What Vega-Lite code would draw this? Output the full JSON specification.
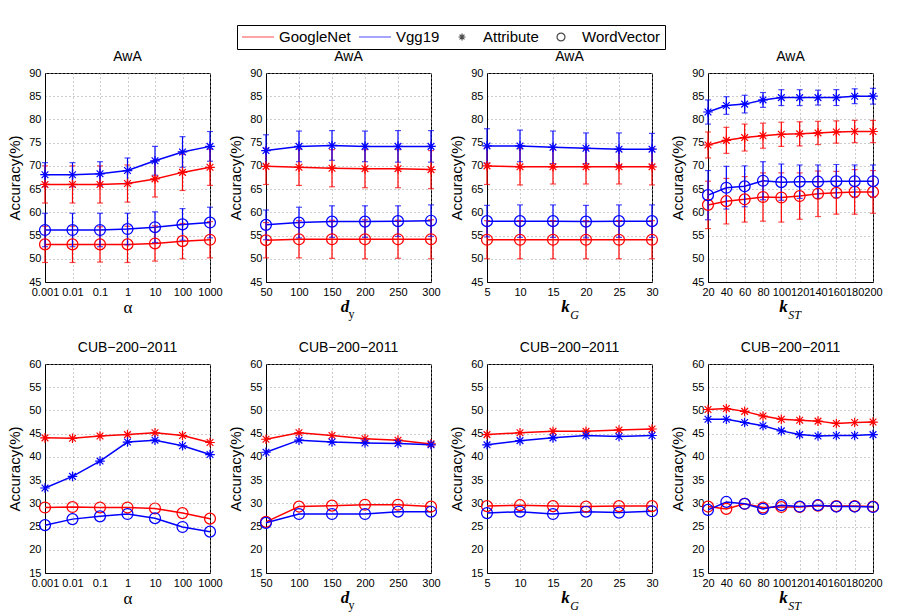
{
  "$schema": "https://vega.github.io/schema/vega-lite/v6.json",
  "padding": {"left": 7, "top": 24, "right": 5, "bottom": 5},
  "datasets": {
    "acc": [
      {"ds": "AwA", "param": "alpha", "model": "GoogleNet", "emb": "Attribute", "x": 0.001, "acc": 66.0, "err": 4.0},
      {"ds": "AwA", "param": "alpha", "model": "GoogleNet", "emb": "Attribute", "x": 0.01, "acc": 66.0, "err": 4.0},
      {"ds": "AwA", "param": "alpha", "model": "GoogleNet", "emb": "Attribute", "x": 0.1, "acc": 66.0, "err": 4.0},
      {"ds": "AwA", "param": "alpha", "model": "GoogleNet", "emb": "Attribute", "x": 1, "acc": 66.2, "err": 4.0},
      {"ds": "AwA", "param": "alpha", "model": "GoogleNet", "emb": "Attribute", "x": 10, "acc": 67.2, "err": 3.9},
      {"ds": "AwA", "param": "alpha", "model": "GoogleNet", "emb": "Attribute", "x": 100, "acc": 68.6, "err": 3.9},
      {"ds": "AwA", "param": "alpha", "model": "GoogleNet", "emb": "Attribute", "x": 1000, "acc": 69.7, "err": 3.9},
      {"ds": "AwA", "param": "alpha", "model": "Vgg19", "emb": "Attribute", "x": 0.001, "acc": 68.1, "err": 2.6},
      {"ds": "AwA", "param": "alpha", "model": "Vgg19", "emb": "Attribute", "x": 0.01, "acc": 68.1, "err": 2.6},
      {"ds": "AwA", "param": "alpha", "model": "Vgg19", "emb": "Attribute", "x": 0.1, "acc": 68.3, "err": 2.6},
      {"ds": "AwA", "param": "alpha", "model": "Vgg19", "emb": "Attribute", "x": 1, "acc": 69.0, "err": 2.7},
      {"ds": "AwA", "param": "alpha", "model": "Vgg19", "emb": "Attribute", "x": 10, "acc": 71.1, "err": 3.1},
      {"ds": "AwA", "param": "alpha", "model": "Vgg19", "emb": "Attribute", "x": 100, "acc": 73.0, "err": 3.3},
      {"ds": "AwA", "param": "alpha", "model": "Vgg19", "emb": "Attribute", "x": 1000, "acc": 74.2, "err": 3.2},
      {"ds": "AwA", "param": "alpha", "model": "GoogleNet", "emb": "WordVector", "x": 0.001, "acc": 53.1, "err": 3.9},
      {"ds": "AwA", "param": "alpha", "model": "GoogleNet", "emb": "WordVector", "x": 0.01, "acc": 53.1, "err": 3.9},
      {"ds": "AwA", "param": "alpha", "model": "GoogleNet", "emb": "WordVector", "x": 0.1, "acc": 53.1, "err": 3.8},
      {"ds": "AwA", "param": "alpha", "model": "GoogleNet", "emb": "WordVector", "x": 1, "acc": 53.1, "err": 3.9},
      {"ds": "AwA", "param": "alpha", "model": "GoogleNet", "emb": "WordVector", "x": 10, "acc": 53.3, "err": 3.8},
      {"ds": "AwA", "param": "alpha", "model": "GoogleNet", "emb": "WordVector", "x": 100, "acc": 53.8, "err": 3.8},
      {"ds": "AwA", "param": "alpha", "model": "GoogleNet", "emb": "WordVector", "x": 1000, "acc": 54.1, "err": 3.9},
      {"ds": "AwA", "param": "alpha", "model": "Vgg19", "emb": "WordVector", "x": 0.001, "acc": 56.2, "err": 3.6},
      {"ds": "AwA", "param": "alpha", "model": "Vgg19", "emb": "WordVector", "x": 0.01, "acc": 56.2, "err": 3.6},
      {"ds": "AwA", "param": "alpha", "model": "Vgg19", "emb": "WordVector", "x": 0.1, "acc": 56.2, "err": 3.6},
      {"ds": "AwA", "param": "alpha", "model": "Vgg19", "emb": "WordVector", "x": 1, "acc": 56.4, "err": 3.4},
      {"ds": "AwA", "param": "alpha", "model": "Vgg19", "emb": "WordVector", "x": 10, "acc": 56.8, "err": 3.3},
      {"ds": "AwA", "param": "alpha", "model": "Vgg19", "emb": "WordVector", "x": 100, "acc": 57.4, "err": 3.4},
      {"ds": "AwA", "param": "alpha", "model": "Vgg19", "emb": "WordVector", "x": 1000, "acc": 57.8, "err": 3.3},

      {"ds": "AwA", "param": "dy", "model": "GoogleNet", "emb": "Attribute", "x": 50, "acc": 69.9, "err": 3.9},
      {"ds": "AwA", "param": "dy", "model": "GoogleNet", "emb": "Attribute", "x": 100, "acc": 69.7, "err": 3.9},
      {"ds": "AwA", "param": "dy", "model": "GoogleNet", "emb": "Attribute", "x": 150, "acc": 69.5, "err": 4.0},
      {"ds": "AwA", "param": "dy", "model": "GoogleNet", "emb": "Attribute", "x": 200, "acc": 69.4, "err": 4.1},
      {"ds": "AwA", "param": "dy", "model": "GoogleNet", "emb": "Attribute", "x": 250, "acc": 69.4, "err": 4.1},
      {"ds": "AwA", "param": "dy", "model": "GoogleNet", "emb": "Attribute", "x": 300, "acc": 69.2, "err": 4.1},
      {"ds": "AwA", "param": "dy", "model": "Vgg19", "emb": "Attribute", "x": 50, "acc": 73.3, "err": 3.4},
      {"ds": "AwA", "param": "dy", "model": "Vgg19", "emb": "Attribute", "x": 100, "acc": 74.2, "err": 3.3},
      {"ds": "AwA", "param": "dy", "model": "Vgg19", "emb": "Attribute", "x": 150, "acc": 74.4, "err": 3.2},
      {"ds": "AwA", "param": "dy", "model": "Vgg19", "emb": "Attribute", "x": 200, "acc": 74.2, "err": 3.3},
      {"ds": "AwA", "param": "dy", "model": "Vgg19", "emb": "Attribute", "x": 250, "acc": 74.2, "err": 3.4},
      {"ds": "AwA", "param": "dy", "model": "Vgg19", "emb": "Attribute", "x": 300, "acc": 74.2, "err": 3.4},
      {"ds": "AwA", "param": "dy", "model": "GoogleNet", "emb": "WordVector", "x": 50, "acc": 54.0, "err": 3.8},
      {"ds": "AwA", "param": "dy", "model": "GoogleNet", "emb": "WordVector", "x": 100, "acc": 54.2, "err": 4.0},
      {"ds": "AwA", "param": "dy", "model": "GoogleNet", "emb": "WordVector", "x": 150, "acc": 54.2, "err": 4.1},
      {"ds": "AwA", "param": "dy", "model": "GoogleNet", "emb": "WordVector", "x": 200, "acc": 54.2, "err": 4.2},
      {"ds": "AwA", "param": "dy", "model": "GoogleNet", "emb": "WordVector", "x": 250, "acc": 54.2, "err": 4.1},
      {"ds": "AwA", "param": "dy", "model": "GoogleNet", "emb": "WordVector", "x": 300, "acc": 54.2, "err": 4.2},
      {"ds": "AwA", "param": "dy", "model": "Vgg19", "emb": "WordVector", "x": 50, "acc": 57.3, "err": 3.2},
      {"ds": "AwA", "param": "dy", "model": "Vgg19", "emb": "WordVector", "x": 100, "acc": 57.8, "err": 3.3},
      {"ds": "AwA", "param": "dy", "model": "Vgg19", "emb": "WordVector", "x": 150, "acc": 58.0, "err": 3.4},
      {"ds": "AwA", "param": "dy", "model": "Vgg19", "emb": "WordVector", "x": 200, "acc": 58.0, "err": 3.4},
      {"ds": "AwA", "param": "dy", "model": "Vgg19", "emb": "WordVector", "x": 250, "acc": 58.1, "err": 3.3},
      {"ds": "AwA", "param": "dy", "model": "Vgg19", "emb": "WordVector", "x": 300, "acc": 58.2, "err": 3.4},

      {"ds": "AwA", "param": "kG", "model": "GoogleNet", "emb": "Attribute", "x": 5, "acc": 70.0, "err": 4.0},
      {"ds": "AwA", "param": "kG", "model": "GoogleNet", "emb": "Attribute", "x": 10, "acc": 69.8, "err": 3.9},
      {"ds": "AwA", "param": "kG", "model": "GoogleNet", "emb": "Attribute", "x": 15, "acc": 69.8, "err": 3.7},
      {"ds": "AwA", "param": "kG", "model": "GoogleNet", "emb": "Attribute", "x": 20, "acc": 69.8, "err": 3.7},
      {"ds": "AwA", "param": "kG", "model": "GoogleNet", "emb": "Attribute", "x": 25, "acc": 69.8, "err": 3.7},
      {"ds": "AwA", "param": "kG", "model": "GoogleNet", "emb": "Attribute", "x": 30, "acc": 69.8, "err": 3.9},
      {"ds": "AwA", "param": "kG", "model": "Vgg19", "emb": "Attribute", "x": 5, "acc": 74.3, "err": 3.7},
      {"ds": "AwA", "param": "kG", "model": "Vgg19", "emb": "Attribute", "x": 10, "acc": 74.3, "err": 3.4},
      {"ds": "AwA", "param": "kG", "model": "Vgg19", "emb": "Attribute", "x": 15, "acc": 74.0, "err": 3.5},
      {"ds": "AwA", "param": "kG", "model": "Vgg19", "emb": "Attribute", "x": 20, "acc": 73.8, "err": 3.3},
      {"ds": "AwA", "param": "kG", "model": "Vgg19", "emb": "Attribute", "x": 25, "acc": 73.6, "err": 3.5},
      {"ds": "AwA", "param": "kG", "model": "Vgg19", "emb": "Attribute", "x": 30, "acc": 73.6, "err": 3.4},
      {"ds": "AwA", "param": "kG", "model": "GoogleNet", "emb": "WordVector", "x": 5, "acc": 54.1, "err": 4.1},
      {"ds": "AwA", "param": "kG", "model": "GoogleNet", "emb": "WordVector", "x": 10, "acc": 54.1, "err": 4.1},
      {"ds": "AwA", "param": "kG", "model": "GoogleNet", "emb": "WordVector", "x": 15, "acc": 54.1, "err": 4.1},
      {"ds": "AwA", "param": "kG", "model": "GoogleNet", "emb": "WordVector", "x": 20, "acc": 54.1, "err": 4.1},
      {"ds": "AwA", "param": "kG", "model": "GoogleNet", "emb": "WordVector", "x": 25, "acc": 54.1, "err": 4.1},
      {"ds": "AwA", "param": "kG", "model": "GoogleNet", "emb": "WordVector", "x": 30, "acc": 54.1, "err": 4.1},
      {"ds": "AwA", "param": "kG", "model": "Vgg19", "emb": "WordVector", "x": 5, "acc": 58.1, "err": 3.4},
      {"ds": "AwA", "param": "kG", "model": "Vgg19", "emb": "WordVector", "x": 10, "acc": 58.1, "err": 3.5},
      {"ds": "AwA", "param": "kG", "model": "Vgg19", "emb": "WordVector", "x": 15, "acc": 58.1, "err": 3.5},
      {"ds": "AwA", "param": "kG", "model": "Vgg19", "emb": "WordVector", "x": 20, "acc": 58.0, "err": 3.5},
      {"ds": "AwA", "param": "kG", "model": "Vgg19", "emb": "WordVector", "x": 25, "acc": 58.1, "err": 3.5},
      {"ds": "AwA", "param": "kG", "model": "Vgg19", "emb": "WordVector", "x": 30, "acc": 58.1, "err": 3.5},

      {"ds": "AwA", "param": "kST", "model": "GoogleNet", "emb": "Attribute", "x": 20, "acc": 74.5, "err": 2.8},
      {"ds": "AwA", "param": "kST", "model": "GoogleNet", "emb": "Attribute", "x": 40, "acc": 75.5, "err": 2.8},
      {"ds": "AwA", "param": "kST", "model": "GoogleNet", "emb": "Attribute", "x": 60, "acc": 76.1, "err": 2.9},
      {"ds": "AwA", "param": "kST", "model": "GoogleNet", "emb": "Attribute", "x": 80, "acc": 76.5, "err": 2.7},
      {"ds": "AwA", "param": "kST", "model": "GoogleNet", "emb": "Attribute", "x": 100, "acc": 76.8, "err": 2.6},
      {"ds": "AwA", "param": "kST", "model": "GoogleNet", "emb": "Attribute", "x": 120, "acc": 76.9, "err": 2.6},
      {"ds": "AwA", "param": "kST", "model": "GoogleNet", "emb": "Attribute", "x": 140, "acc": 77.1, "err": 2.5},
      {"ds": "AwA", "param": "kST", "model": "GoogleNet", "emb": "Attribute", "x": 160, "acc": 77.3, "err": 2.4},
      {"ds": "AwA", "param": "kST", "model": "GoogleNet", "emb": "Attribute", "x": 180, "acc": 77.4, "err": 2.4},
      {"ds": "AwA", "param": "kST", "model": "GoogleNet", "emb": "Attribute", "x": 200, "acc": 77.4, "err": 2.4},
      {"ds": "AwA", "param": "kST", "model": "Vgg19", "emb": "Attribute", "x": 20, "acc": 81.6, "err": 2.6},
      {"ds": "AwA", "param": "kST", "model": "Vgg19", "emb": "Attribute", "x": 40, "acc": 83.0, "err": 1.9},
      {"ds": "AwA", "param": "kST", "model": "Vgg19", "emb": "Attribute", "x": 60, "acc": 83.3, "err": 1.9},
      {"ds": "AwA", "param": "kST", "model": "Vgg19", "emb": "Attribute", "x": 80, "acc": 84.2, "err": 1.6},
      {"ds": "AwA", "param": "kST", "model": "Vgg19", "emb": "Attribute", "x": 100, "acc": 84.7, "err": 1.7},
      {"ds": "AwA", "param": "kST", "model": "Vgg19", "emb": "Attribute", "x": 120, "acc": 84.7, "err": 1.7},
      {"ds": "AwA", "param": "kST", "model": "Vgg19", "emb": "Attribute", "x": 140, "acc": 84.7, "err": 1.6},
      {"ds": "AwA", "param": "kST", "model": "Vgg19", "emb": "Attribute", "x": 160, "acc": 84.7, "err": 1.7},
      {"ds": "AwA", "param": "kST", "model": "Vgg19", "emb": "Attribute", "x": 180, "acc": 85.0, "err": 1.6},
      {"ds": "AwA", "param": "kST", "model": "Vgg19", "emb": "Attribute", "x": 200, "acc": 85.0, "err": 1.7},
      {"ds": "AwA", "param": "kST", "model": "GoogleNet", "emb": "WordVector", "x": 20, "acc": 61.6, "err": 5.1},
      {"ds": "AwA", "param": "kST", "model": "GoogleNet", "emb": "WordVector", "x": 40, "acc": 62.4, "err": 4.9},
      {"ds": "AwA", "param": "kST", "model": "GoogleNet", "emb": "WordVector", "x": 60, "acc": 62.8, "err": 4.9},
      {"ds": "AwA", "param": "kST", "model": "GoogleNet", "emb": "WordVector", "x": 80, "acc": 63.3, "err": 5.2},
      {"ds": "AwA", "param": "kST", "model": "GoogleNet", "emb": "WordVector", "x": 100, "acc": 63.2, "err": 5.3},
      {"ds": "AwA", "param": "kST", "model": "GoogleNet", "emb": "WordVector", "x": 120, "acc": 63.5, "err": 5.0},
      {"ds": "AwA", "param": "kST", "model": "GoogleNet", "emb": "WordVector", "x": 140, "acc": 64.0, "err": 4.9},
      {"ds": "AwA", "param": "kST", "model": "GoogleNet", "emb": "WordVector", "x": 160, "acc": 64.2, "err": 4.6},
      {"ds": "AwA", "param": "kST", "model": "GoogleNet", "emb": "WordVector", "x": 180, "acc": 64.4, "err": 4.8},
      {"ds": "AwA", "param": "kST", "model": "GoogleNet", "emb": "WordVector", "x": 200, "acc": 64.4, "err": 4.6},
      {"ds": "AwA", "param": "kST", "model": "Vgg19", "emb": "WordVector", "x": 20, "acc": 63.7, "err": 5.3},
      {"ds": "AwA", "param": "kST", "model": "Vgg19", "emb": "WordVector", "x": 40, "acc": 65.3, "err": 4.6},
      {"ds": "AwA", "param": "kST", "model": "Vgg19", "emb": "WordVector", "x": 60, "acc": 65.6, "err": 4.4},
      {"ds": "AwA", "param": "kST", "model": "Vgg19", "emb": "WordVector", "x": 80, "acc": 66.8, "err": 4.1},
      {"ds": "AwA", "param": "kST", "model": "Vgg19", "emb": "WordVector", "x": 100, "acc": 66.5, "err": 3.9},
      {"ds": "AwA", "param": "kST", "model": "Vgg19", "emb": "WordVector", "x": 120, "acc": 66.6, "err": 3.6},
      {"ds": "AwA", "param": "kST", "model": "Vgg19", "emb": "WordVector", "x": 140, "acc": 66.6, "err": 3.6},
      {"ds": "AwA", "param": "kST", "model": "Vgg19", "emb": "WordVector", "x": 160, "acc": 66.7, "err": 3.6},
      {"ds": "AwA", "param": "kST", "model": "Vgg19", "emb": "WordVector", "x": 180, "acc": 66.7, "err": 3.5},
      {"ds": "AwA", "param": "kST", "model": "Vgg19", "emb": "WordVector", "x": 200, "acc": 66.7, "err": 3.5},

      {"ds": "CUB", "param": "alpha", "model": "GoogleNet", "emb": "Attribute", "x": 0.001, "acc": 44.1},
      {"ds": "CUB", "param": "alpha", "model": "GoogleNet", "emb": "Attribute", "x": 0.01, "acc": 44.0},
      {"ds": "CUB", "param": "alpha", "model": "GoogleNet", "emb": "Attribute", "x": 0.1, "acc": 44.5},
      {"ds": "CUB", "param": "alpha", "model": "GoogleNet", "emb": "Attribute", "x": 1, "acc": 44.8},
      {"ds": "CUB", "param": "alpha", "model": "GoogleNet", "emb": "Attribute", "x": 10, "acc": 45.2},
      {"ds": "CUB", "param": "alpha", "model": "GoogleNet", "emb": "Attribute", "x": 100, "acc": 44.6},
      {"ds": "CUB", "param": "alpha", "model": "GoogleNet", "emb": "Attribute", "x": 1000, "acc": 43.1},
      {"ds": "CUB", "param": "alpha", "model": "Vgg19", "emb": "Attribute", "x": 0.001, "acc": 33.3},
      {"ds": "CUB", "param": "alpha", "model": "Vgg19", "emb": "Attribute", "x": 0.01, "acc": 35.8},
      {"ds": "CUB", "param": "alpha", "model": "Vgg19", "emb": "Attribute", "x": 0.1, "acc": 39.1},
      {"ds": "CUB", "param": "alpha", "model": "Vgg19", "emb": "Attribute", "x": 1, "acc": 43.2},
      {"ds": "CUB", "param": "alpha", "model": "Vgg19", "emb": "Attribute", "x": 10, "acc": 43.6},
      {"ds": "CUB", "param": "alpha", "model": "Vgg19", "emb": "Attribute", "x": 100, "acc": 42.4},
      {"ds": "CUB", "param": "alpha", "model": "Vgg19", "emb": "Attribute", "x": 1000, "acc": 40.5},
      {"ds": "CUB", "param": "alpha", "model": "GoogleNet", "emb": "WordVector", "x": 0.001, "acc": 29.1},
      {"ds": "CUB", "param": "alpha", "model": "GoogleNet", "emb": "WordVector", "x": 0.01, "acc": 29.2},
      {"ds": "CUB", "param": "alpha", "model": "GoogleNet", "emb": "WordVector", "x": 0.1, "acc": 29.1},
      {"ds": "CUB", "param": "alpha", "model": "GoogleNet", "emb": "WordVector", "x": 1, "acc": 29.1},
      {"ds": "CUB", "param": "alpha", "model": "GoogleNet", "emb": "WordVector", "x": 10, "acc": 28.9},
      {"ds": "CUB", "param": "alpha", "model": "GoogleNet", "emb": "WordVector", "x": 100, "acc": 27.9},
      {"ds": "CUB", "param": "alpha", "model": "GoogleNet", "emb": "WordVector", "x": 1000, "acc": 26.7},
      {"ds": "CUB", "param": "alpha", "model": "Vgg19", "emb": "WordVector", "x": 0.001, "acc": 25.3},
      {"ds": "CUB", "param": "alpha", "model": "Vgg19", "emb": "WordVector", "x": 0.01, "acc": 26.6},
      {"ds": "CUB", "param": "alpha", "model": "Vgg19", "emb": "WordVector", "x": 0.1, "acc": 27.2},
      {"ds": "CUB", "param": "alpha", "model": "Vgg19", "emb": "WordVector", "x": 1, "acc": 27.7},
      {"ds": "CUB", "param": "alpha", "model": "Vgg19", "emb": "WordVector", "x": 10, "acc": 26.8},
      {"ds": "CUB", "param": "alpha", "model": "Vgg19", "emb": "WordVector", "x": 100, "acc": 24.9},
      {"ds": "CUB", "param": "alpha", "model": "Vgg19", "emb": "WordVector", "x": 1000, "acc": 23.9},

      {"ds": "CUB", "param": "dy", "model": "GoogleNet", "emb": "Attribute", "x": 50, "acc": 43.8},
      {"ds": "CUB", "param": "dy", "model": "GoogleNet", "emb": "Attribute", "x": 100, "acc": 45.2},
      {"ds": "CUB", "param": "dy", "model": "GoogleNet", "emb": "Attribute", "x": 150, "acc": 44.6},
      {"ds": "CUB", "param": "dy", "model": "GoogleNet", "emb": "Attribute", "x": 200, "acc": 43.9},
      {"ds": "CUB", "param": "dy", "model": "GoogleNet", "emb": "Attribute", "x": 250, "acc": 43.6},
      {"ds": "CUB", "param": "dy", "model": "GoogleNet", "emb": "Attribute", "x": 300, "acc": 42.8},
      {"ds": "CUB", "param": "dy", "model": "Vgg19", "emb": "Attribute", "x": 50, "acc": 41.0},
      {"ds": "CUB", "param": "dy", "model": "Vgg19", "emb": "Attribute", "x": 100, "acc": 43.6},
      {"ds": "CUB", "param": "dy", "model": "Vgg19", "emb": "Attribute", "x": 150, "acc": 43.2},
      {"ds": "CUB", "param": "dy", "model": "Vgg19", "emb": "Attribute", "x": 200, "acc": 43.0},
      {"ds": "CUB", "param": "dy", "model": "Vgg19", "emb": "Attribute", "x": 250, "acc": 42.9},
      {"ds": "CUB", "param": "dy", "model": "Vgg19", "emb": "Attribute", "x": 300, "acc": 42.6},
      {"ds": "CUB", "param": "dy", "model": "GoogleNet", "emb": "WordVector", "x": 50, "acc": 26.0},
      {"ds": "CUB", "param": "dy", "model": "GoogleNet", "emb": "WordVector", "x": 100, "acc": 29.3},
      {"ds": "CUB", "param": "dy", "model": "GoogleNet", "emb": "WordVector", "x": 150, "acc": 29.5},
      {"ds": "CUB", "param": "dy", "model": "GoogleNet", "emb": "WordVector", "x": 200, "acc": 29.7},
      {"ds": "CUB", "param": "dy", "model": "GoogleNet", "emb": "WordVector", "x": 250, "acc": 29.7},
      {"ds": "CUB", "param": "dy", "model": "GoogleNet", "emb": "WordVector", "x": 300, "acc": 29.3},
      {"ds": "CUB", "param": "dy", "model": "Vgg19", "emb": "WordVector", "x": 50, "acc": 25.8},
      {"ds": "CUB", "param": "dy", "model": "Vgg19", "emb": "WordVector", "x": 100, "acc": 27.7},
      {"ds": "CUB", "param": "dy", "model": "Vgg19", "emb": "WordVector", "x": 150, "acc": 27.7},
      {"ds": "CUB", "param": "dy", "model": "Vgg19", "emb": "WordVector", "x": 200, "acc": 27.7},
      {"ds": "CUB", "param": "dy", "model": "Vgg19", "emb": "WordVector", "x": 250, "acc": 28.2},
      {"ds": "CUB", "param": "dy", "model": "Vgg19", "emb": "WordVector", "x": 300, "acc": 28.2},

      {"ds": "CUB", "param": "kG", "model": "GoogleNet", "emb": "Attribute", "x": 5, "acc": 44.8},
      {"ds": "CUB", "param": "kG", "model": "GoogleNet", "emb": "Attribute", "x": 10, "acc": 45.2},
      {"ds": "CUB", "param": "kG", "model": "GoogleNet", "emb": "Attribute", "x": 15, "acc": 45.5},
      {"ds": "CUB", "param": "kG", "model": "GoogleNet", "emb": "Attribute", "x": 20, "acc": 45.5},
      {"ds": "CUB", "param": "kG", "model": "GoogleNet", "emb": "Attribute", "x": 25, "acc": 45.8},
      {"ds": "CUB", "param": "kG", "model": "GoogleNet", "emb": "Attribute", "x": 30, "acc": 46.0},
      {"ds": "CUB", "param": "kG", "model": "Vgg19", "emb": "Attribute", "x": 5, "acc": 42.6},
      {"ds": "CUB", "param": "kG", "model": "Vgg19", "emb": "Attribute", "x": 10, "acc": 43.5},
      {"ds": "CUB", "param": "kG", "model": "Vgg19", "emb": "Attribute", "x": 15, "acc": 44.1},
      {"ds": "CUB", "param": "kG", "model": "Vgg19", "emb": "Attribute", "x": 20, "acc": 44.6},
      {"ds": "CUB", "param": "kG", "model": "Vgg19", "emb": "Attribute", "x": 25, "acc": 44.4},
      {"ds": "CUB", "param": "kG", "model": "Vgg19", "emb": "Attribute", "x": 30, "acc": 44.6},
      {"ds": "CUB", "param": "kG", "model": "GoogleNet", "emb": "WordVector", "x": 5, "acc": 29.4},
      {"ds": "CUB", "param": "kG", "model": "GoogleNet", "emb": "WordVector", "x": 10, "acc": 29.6},
      {"ds": "CUB", "param": "kG", "model": "GoogleNet", "emb": "WordVector", "x": 15, "acc": 29.4},
      {"ds": "CUB", "param": "kG", "model": "GoogleNet", "emb": "WordVector", "x": 20, "acc": 29.3},
      {"ds": "CUB", "param": "kG", "model": "GoogleNet", "emb": "WordVector", "x": 25, "acc": 29.4},
      {"ds": "CUB", "param": "kG", "model": "GoogleNet", "emb": "WordVector", "x": 30, "acc": 29.4},
      {"ds": "CUB", "param": "kG", "model": "Vgg19", "emb": "WordVector", "x": 5, "acc": 27.9},
      {"ds": "CUB", "param": "kG", "model": "Vgg19", "emb": "WordVector", "x": 10, "acc": 28.2},
      {"ds": "CUB", "param": "kG", "model": "Vgg19", "emb": "WordVector", "x": 15, "acc": 27.7},
      {"ds": "CUB", "param": "kG", "model": "Vgg19", "emb": "WordVector", "x": 20, "acc": 28.2},
      {"ds": "CUB", "param": "kG", "model": "Vgg19", "emb": "WordVector", "x": 25, "acc": 28.0},
      {"ds": "CUB", "param": "kG", "model": "Vgg19", "emb": "WordVector", "x": 30, "acc": 28.3},

      {"ds": "CUB", "param": "kST", "model": "GoogleNet", "emb": "Attribute", "x": 20, "acc": 50.2},
      {"ds": "CUB", "param": "kST", "model": "GoogleNet", "emb": "Attribute", "x": 40, "acc": 50.4},
      {"ds": "CUB", "param": "kST", "model": "GoogleNet", "emb": "Attribute", "x": 60, "acc": 49.8},
      {"ds": "CUB", "param": "kST", "model": "GoogleNet", "emb": "Attribute", "x": 80, "acc": 48.8},
      {"ds": "CUB", "param": "kST", "model": "GoogleNet", "emb": "Attribute", "x": 100, "acc": 48.1},
      {"ds": "CUB", "param": "kST", "model": "GoogleNet", "emb": "Attribute", "x": 120, "acc": 47.9},
      {"ds": "CUB", "param": "kST", "model": "GoogleNet", "emb": "Attribute", "x": 140, "acc": 47.7},
      {"ds": "CUB", "param": "kST", "model": "GoogleNet", "emb": "Attribute", "x": 160, "acc": 47.2},
      {"ds": "CUB", "param": "kST", "model": "GoogleNet", "emb": "Attribute", "x": 180, "acc": 47.4},
      {"ds": "CUB", "param": "kST", "model": "GoogleNet", "emb": "Attribute", "x": 200, "acc": 47.5},
      {"ds": "CUB", "param": "kST", "model": "Vgg19", "emb": "Attribute", "x": 20, "acc": 48.1},
      {"ds": "CUB", "param": "kST", "model": "Vgg19", "emb": "Attribute", "x": 40, "acc": 48.1},
      {"ds": "CUB", "param": "kST", "model": "Vgg19", "emb": "Attribute", "x": 60, "acc": 47.4},
      {"ds": "CUB", "param": "kST", "model": "Vgg19", "emb": "Attribute", "x": 80, "acc": 46.7},
      {"ds": "CUB", "param": "kST", "model": "Vgg19", "emb": "Attribute", "x": 100, "acc": 45.6},
      {"ds": "CUB", "param": "kST", "model": "Vgg19", "emb": "Attribute", "x": 120, "acc": 44.8},
      {"ds": "CUB", "param": "kST", "model": "Vgg19", "emb": "Attribute", "x": 140, "acc": 44.5},
      {"ds": "CUB", "param": "kST", "model": "Vgg19", "emb": "Attribute", "x": 160, "acc": 44.6},
      {"ds": "CUB", "param": "kST", "model": "Vgg19", "emb": "Attribute", "x": 180, "acc": 44.6},
      {"ds": "CUB", "param": "kST", "model": "Vgg19", "emb": "Attribute", "x": 200, "acc": 44.8},
      {"ds": "CUB", "param": "kST", "model": "GoogleNet", "emb": "WordVector", "x": 20, "acc": 29.3},
      {"ds": "CUB", "param": "kST", "model": "GoogleNet", "emb": "WordVector", "x": 40, "acc": 28.8},
      {"ds": "CUB", "param": "kST", "model": "GoogleNet", "emb": "WordVector", "x": 60, "acc": 29.9},
      {"ds": "CUB", "param": "kST", "model": "GoogleNet", "emb": "WordVector", "x": 80, "acc": 29.1},
      {"ds": "CUB", "param": "kST", "model": "GoogleNet", "emb": "WordVector", "x": 100, "acc": 29.2},
      {"ds": "CUB", "param": "kST", "model": "GoogleNet", "emb": "WordVector", "x": 120, "acc": 29.2},
      {"ds": "CUB", "param": "kST", "model": "GoogleNet", "emb": "WordVector", "x": 140, "acc": 29.5},
      {"ds": "CUB", "param": "kST", "model": "GoogleNet", "emb": "WordVector", "x": 160, "acc": 29.4},
      {"ds": "CUB", "param": "kST", "model": "GoogleNet", "emb": "WordVector", "x": 180, "acc": 29.4},
      {"ds": "CUB", "param": "kST", "model": "GoogleNet", "emb": "WordVector", "x": 200, "acc": 29.3},
      {"ds": "CUB", "param": "kST", "model": "Vgg19", "emb": "WordVector", "x": 20, "acc": 28.6},
      {"ds": "CUB", "param": "kST", "model": "Vgg19", "emb": "WordVector", "x": 40, "acc": 30.3},
      {"ds": "CUB", "param": "kST", "model": "Vgg19", "emb": "WordVector", "x": 60, "acc": 29.9},
      {"ds": "CUB", "param": "kST", "model": "Vgg19", "emb": "WordVector", "x": 80, "acc": 28.8},
      {"ds": "CUB", "param": "kST", "model": "Vgg19", "emb": "WordVector", "x": 100, "acc": 29.6},
      {"ds": "CUB", "param": "kST", "model": "Vgg19", "emb": "WordVector", "x": 120, "acc": 29.3},
      {"ds": "CUB", "param": "kST", "model": "Vgg19", "emb": "WordVector", "x": 140, "acc": 29.6},
      {"ds": "CUB", "param": "kST", "model": "Vgg19", "emb": "WordVector", "x": 160, "acc": 29.3},
      {"ds": "CUB", "param": "kST", "model": "Vgg19", "emb": "WordVector", "x": 180, "acc": 29.3},
      {"ds": "CUB", "param": "kST", "model": "Vgg19", "emb": "WordVector", "x": 200, "acc": 29.2}
    ]
  },
  "columns": 4,
  "spacing": {"row": 82, "column": 56},
  "bounds": "flush",
  "concat": [
    {
      "title": "AwA",
      "width": 165,
      "height": 209,
      "data": {"name": "acc"},
      "transform": [{"filter": "datum.ds == 'AwA' && datum.param == 'alpha'"}],
      "encoding": {
        "x": {"field": "x", "type": "quantitative", "scale": {"type": "log", "domain": [0.001, 1000]},
          "axis": {"values": [0.001, 0.01, 0.1, 1, 10, 100, 1000], "labelExpr": "'' + datum.value", "title": "α", "titleFont": "Liberation Serif", "titleFontSize": 17, "titleBaseline": "alphabetic", "titleY": 30}},
        "y": {"field": "acc", "type": "quantitative", "scale": {"domain": [45, 90], "nice": false, "zero": false},
          "axis": {"values": [45, 50, 55, 60, 65, 70, 75, 80, 85, 90], "title": "Accuracy(%)"}},
        "color": {"field": "model", "type": "nominal", "legend": {"title": null},
          "scale": {"domain": ["GoogleNet", "Vgg19", "Attribute", "WordVector"], "range": ["#ff0000", "#0000ff", "#000000", "#000000"]}}
      },
      "layer": [
        {"mark": {"type": "line", "strokeWidth": 1.5}, "encoding": {"detail": {"field": "emb"}}},
        {"mark": {"type": "errorbar", "ticks": {"size": 6}, "thickness": 1.2}, "encoding": {"yError": {"field": "err"}}},
        {"mark": {"type": "point", "filled": false, "size": 368, "strokeWidth": 1.2, "opacity": 1},
          "encoding": {"shape": {"field": "emb", "type": "nominal", "legend": {"title": null},
            "scale": {"domain": ["GoogleNet", "Vgg19", "Attribute", "WordVector"], "range": ["M-2.29,0L2.29,0", "M-2.29,0L2.29,0", "M0,-0.5L0,0.5M-0.5,0L0.5,0M-0.35,-0.35L0.35,0.35M-0.35,0.35L0.35,-0.35", "M0.57,0A0.57,0.57,0,1,1,-0.57,0A0.57,0.57,0,1,1,0.57,0ZM0.565,0A0.565,0.565,0,1,0,-0.565,0A0.565,0.565,0,1,0,0.565,0Z"]}}}}
      ]
    },
    {
      "title": "AwA",
      "width": 165,
      "height": 209,
      "data": {"name": "acc"},
      "transform": [{"filter": "datum.ds == 'AwA' && datum.param == 'dy'"}],
      "encoding": {
        "y": {"field": "acc", "type": "quantitative", "scale": {"domain": [45, 90], "nice": false, "zero": false},
          "axis": {"values": [45, 50, 55, 60, 65, 70, 75, 80, 85, 90], "title": "Accuracy(%)"}},
        "color": {"field": "model", "type": "nominal", "legend": {"title": null},
          "scale": {"domain": ["GoogleNet", "Vgg19", "Attribute", "WordVector"], "range": ["#ff0000", "#0000ff", "#000000", "#000000"]}}
      },
      "layer": [
        {"mark": {"type": "line", "strokeWidth": 1.5}, "encoding": {"detail": {"field": "emb"},
          "x": {"field": "x", "type": "quantitative", "scale": {"domain": [50, 300], "nice": false, "zero": false},
            "axis": {"values": [50, 100, 150, 200, 250, 300], "title": "d", "titleFont": "Liberation Serif", "titleFontSize": 17, "titleFontStyle": "italic", "titleFontWeight": "bold", "titleBaseline": "alphabetic", "titleAlign": "center", "titleX": 78.5, "titleY": 29}}}},
        {"mark": {"type": "errorbar", "ticks": {"size": 6}, "thickness": 1.2}, "encoding": {"yError": {"field": "err"},
          "x": {"field": "x", "type": "quantitative", "scale": {"domain": [50, 300], "nice": false, "zero": false}, "axis": null}}},
        {"mark": {"type": "point", "filled": false, "size": 368, "strokeWidth": 1.2, "opacity": 1},
          "encoding": {
            "x": {"field": "x", "type": "quantitative", "scale": {"domain": [50, 300], "nice": false, "zero": false},
              "axis": {"orient": "bottom", "labels": false, "ticks": false, "domain": false, "grid": false, "title": "y", "titleFont": "Liberation Serif", "titleFontSize": 12, "titleBaseline": "alphabetic", "titleAlign": "center", "titleX": 85, "titleY": 35}},
            "shape": {"field": "emb", "type": "nominal", "legend": {"title": null},
            "scale": {"domain": ["GoogleNet", "Vgg19", "Attribute", "WordVector"], "range": ["M-2.29,0L2.29,0", "M-2.29,0L2.29,0", "M0,-0.5L0,0.5M-0.5,0L0.5,0M-0.35,-0.35L0.35,0.35M-0.35,0.35L0.35,-0.35", "M0.57,0A0.57,0.57,0,1,1,-0.57,0A0.57,0.57,0,1,1,0.57,0ZM0.565,0A0.565,0.565,0,1,0,-0.565,0A0.565,0.565,0,1,0,0.565,0Z"]}}}}
      ],
      "resolve": {"axis": {"x": "independent"}}
    },
    {
      "title": "AwA",
      "width": 165,
      "height": 209,
      "data": {"name": "acc"},
      "transform": [{"filter": "datum.ds == 'AwA' && datum.param == 'kG'"}],
      "encoding": {
        "y": {"field": "acc", "type": "quantitative", "scale": {"domain": [45, 90], "nice": false, "zero": false},
          "axis": {"values": [45, 50, 55, 60, 65, 70, 75, 80, 85, 90], "title": "Accuracy(%)"}},
        "color": {"field": "model", "type": "nominal", "legend": {"title": null},
          "scale": {"domain": ["GoogleNet", "Vgg19", "Attribute", "WordVector"], "range": ["#ff0000", "#0000ff", "#000000", "#000000"]}}
      },
      "layer": [
        {"mark": {"type": "line", "strokeWidth": 1.5}, "encoding": {"detail": {"field": "emb"},
          "x": {"field": "x", "type": "quantitative", "scale": {"domain": [5, 30], "nice": false, "zero": false},
            "axis": {"values": [5, 10, 15, 20, 25, 30], "title": "k", "titleFont": "Liberation Serif", "titleFontSize": 17, "titleFontStyle": "italic", "titleFontWeight": "bold", "titleBaseline": "alphabetic", "titleAlign": "center", "titleX": 78, "titleY": 29}}}},
        {"mark": {"type": "errorbar", "ticks": {"size": 6}, "thickness": 1.2}, "encoding": {"yError": {"field": "err"},
          "x": {"field": "x", "type": "quantitative", "scale": {"domain": [5, 30], "nice": false, "zero": false}, "axis": null}}},
        {"mark": {"type": "point", "filled": false, "size": 368, "strokeWidth": 1.2, "opacity": 1},
          "encoding": {
            "x": {"field": "x", "type": "quantitative", "scale": {"domain": [5, 30], "nice": false, "zero": false},
              "axis": {"orient": "bottom", "labels": false, "ticks": false, "domain": false, "grid": false, "title": "G", "titleFont": "Liberation Serif", "titleFontSize": 12, "titleFontStyle": "italic", "titleBaseline": "alphabetic", "titleAlign": "center", "titleX": 87, "titleY": 36}},
            "shape": {"field": "emb", "type": "nominal", "legend": {"title": null},
            "scale": {"domain": ["GoogleNet", "Vgg19", "Attribute", "WordVector"], "range": ["M-2.29,0L2.29,0", "M-2.29,0L2.29,0", "M0,-0.5L0,0.5M-0.5,0L0.5,0M-0.35,-0.35L0.35,0.35M-0.35,0.35L0.35,-0.35", "M0.57,0A0.57,0.57,0,1,1,-0.57,0A0.57,0.57,0,1,1,0.57,0ZM0.565,0A0.565,0.565,0,1,0,-0.565,0A0.565,0.565,0,1,0,0.565,0Z"]}}}}
      ],
      "resolve": {"axis": {"x": "independent"}}
    },
    {
      "title": "AwA",
      "width": 165,
      "height": 209,
      "data": {"name": "acc"},
      "transform": [{"filter": "datum.ds == 'AwA' && datum.param == 'kST'"}],
      "encoding": {
        "y": {"field": "acc", "type": "quantitative", "scale": {"domain": [45, 90], "nice": false, "zero": false},
          "axis": {"values": [45, 50, 55, 60, 65, 70, 75, 80, 85, 90], "title": "Accuracy(%)"}},
        "color": {"field": "model", "type": "nominal", "legend": {"title": null},
          "scale": {"domain": ["GoogleNet", "Vgg19", "Attribute", "WordVector"], "range": ["#ff0000", "#0000ff", "#000000", "#000000"]}}
      },
      "layer": [
        {"mark": {"type": "line", "strokeWidth": 1.5}, "encoding": {"detail": {"field": "emb"},
          "x": {"field": "x", "type": "quantitative", "scale": {"domain": [20, 200], "nice": false, "zero": false},
            "axis": {"values": [20, 40, 60, 80, 100, 120, 140, 160, 180, 200], "title": "k", "titleFont": "Liberation Serif", "titleFontSize": 17, "titleFontStyle": "italic", "titleFontWeight": "bold", "titleBaseline": "alphabetic", "titleAlign": "center", "titleX": 75, "titleY": 29}}}},
        {"mark": {"type": "errorbar", "ticks": {"size": 6}, "thickness": 1.2}, "encoding": {"yError": {"field": "err"},
          "x": {"field": "x", "type": "quantitative", "scale": {"domain": [20, 200], "nice": false, "zero": false}, "axis": null}}},
        {"mark": {"type": "point", "filled": false, "size": 368, "strokeWidth": 1.2, "opacity": 1},
          "encoding": {
            "x": {"field": "x", "type": "quantitative", "scale": {"domain": [20, 200], "nice": false, "zero": false},
              "axis": {"orient": "bottom", "labels": false, "ticks": false, "domain": false, "grid": false, "title": "ST", "titleFont": "Liberation Serif", "titleFontSize": 12, "titleFontStyle": "italic", "titleBaseline": "alphabetic", "titleAlign": "center", "titleX": 86, "titleY": 36}},
            "shape": {"field": "emb", "type": "nominal", "legend": {"title": null},
            "scale": {"domain": ["GoogleNet", "Vgg19", "Attribute", "WordVector"], "range": ["M-2.29,0L2.29,0", "M-2.29,0L2.29,0", "M0,-0.5L0,0.5M-0.5,0L0.5,0M-0.35,-0.35L0.35,0.35M-0.35,0.35L0.35,-0.35", "M0.57,0A0.57,0.57,0,1,1,-0.57,0A0.57,0.57,0,1,1,0.57,0ZM0.565,0A0.565,0.565,0,1,0,-0.565,0A0.565,0.565,0,1,0,0.565,0Z"]}}}}
      ],
      "resolve": {"axis": {"x": "independent"}}
    },
    {
      "title": "CUB−200−2011",
      "width": 165,
      "height": 209,
      "data": {"name": "acc"},
      "transform": [{"filter": "datum.ds == 'CUB' && datum.param == 'alpha'"}],
      "encoding": {
        "x": {"field": "x", "type": "quantitative", "scale": {"type": "log", "domain": [0.001, 1000]},
          "axis": {"values": [0.001, 0.01, 0.1, 1, 10, 100, 1000], "labelExpr": "'' + datum.value", "title": "α", "titleFont": "Liberation Serif", "titleFontSize": 17, "titleBaseline": "alphabetic", "titleY": 30}},
        "y": {"field": "acc", "type": "quantitative", "scale": {"domain": [15, 60], "nice": false, "zero": false},
          "axis": {"values": [15, 20, 25, 30, 35, 40, 45, 50, 55, 60], "title": "Accuracy(%)"}},
        "color": {"field": "model", "type": "nominal", "legend": {"title": null},
          "scale": {"domain": ["GoogleNet", "Vgg19", "Attribute", "WordVector"], "range": ["#ff0000", "#0000ff", "#000000", "#000000"]}}
      },
      "layer": [
        {"mark": {"type": "line", "strokeWidth": 1.5}, "encoding": {"detail": {"field": "emb"}}},
        {"mark": {"type": "point", "filled": false, "size": 368, "strokeWidth": 1.2, "opacity": 1},
          "encoding": {"shape": {"field": "emb", "type": "nominal", "legend": {"title": null},
            "scale": {"domain": ["GoogleNet", "Vgg19", "Attribute", "WordVector"], "range": ["M-2.29,0L2.29,0", "M-2.29,0L2.29,0", "M0,-0.5L0,0.5M-0.5,0L0.5,0M-0.35,-0.35L0.35,0.35M-0.35,0.35L0.35,-0.35", "M0.57,0A0.57,0.57,0,1,1,-0.57,0A0.57,0.57,0,1,1,0.57,0ZM0.565,0A0.565,0.565,0,1,0,-0.565,0A0.565,0.565,0,1,0,0.565,0Z"]}}}}
      ]
    },
    {
      "title": "CUB−200−2011",
      "width": 165,
      "height": 209,
      "data": {"name": "acc"},
      "transform": [{"filter": "datum.ds == 'CUB' && datum.param == 'dy'"}],
      "encoding": {
        "y": {"field": "acc", "type": "quantitative", "scale": {"domain": [15, 60], "nice": false, "zero": false},
          "axis": {"values": [15, 20, 25, 30, 35, 40, 45, 50, 55, 60], "title": "Accuracy(%)"}},
        "color": {"field": "model", "type": "nominal", "legend": {"title": null},
          "scale": {"domain": ["GoogleNet", "Vgg19", "Attribute", "WordVector"], "range": ["#ff0000", "#0000ff", "#000000", "#000000"]}}
      },
      "layer": [
        {"mark": {"type": "line", "strokeWidth": 1.5}, "encoding": {"detail": {"field": "emb"},
          "x": {"field": "x", "type": "quantitative", "scale": {"domain": [50, 300], "nice": false, "zero": false},
            "axis": {"values": [50, 100, 150, 200, 250, 300], "title": "d", "titleFont": "Liberation Serif", "titleFontSize": 17, "titleFontStyle": "italic", "titleFontWeight": "bold", "titleBaseline": "alphabetic", "titleAlign": "center", "titleX": 78.5, "titleY": 29}}}},
        {"mark": {"type": "point", "filled": false, "size": 368, "strokeWidth": 1.2, "opacity": 1},
          "encoding": {
            "x": {"field": "x", "type": "quantitative", "scale": {"domain": [50, 300], "nice": false, "zero": false},
              "axis": {"orient": "bottom", "labels": false, "ticks": false, "domain": false, "grid": false, "title": "y", "titleFont": "Liberation Serif", "titleFontSize": 12, "titleBaseline": "alphabetic", "titleAlign": "center", "titleX": 85, "titleY": 35}},
            "shape": {"field": "emb", "type": "nominal", "legend": {"title": null},
            "scale": {"domain": ["GoogleNet", "Vgg19", "Attribute", "WordVector"], "range": ["M-2.29,0L2.29,0", "M-2.29,0L2.29,0", "M0,-0.5L0,0.5M-0.5,0L0.5,0M-0.35,-0.35L0.35,0.35M-0.35,0.35L0.35,-0.35", "M0.57,0A0.57,0.57,0,1,1,-0.57,0A0.57,0.57,0,1,1,0.57,0ZM0.565,0A0.565,0.565,0,1,0,-0.565,0A0.565,0.565,0,1,0,0.565,0Z"]}}}}
      ],
      "resolve": {"axis": {"x": "independent"}}
    },
    {
      "title": "CUB−200−2011",
      "width": 165,
      "height": 209,
      "data": {"name": "acc"},
      "transform": [{"filter": "datum.ds == 'CUB' && datum.param == 'kG'"}],
      "encoding": {
        "y": {"field": "acc", "type": "quantitative", "scale": {"domain": [15, 60], "nice": false, "zero": false},
          "axis": {"values": [15, 20, 25, 30, 35, 40, 45, 50, 55, 60], "title": "Accuracy(%)"}},
        "color": {"field": "model", "type": "nominal", "legend": {"title": null},
          "scale": {"domain": ["GoogleNet", "Vgg19", "Attribute", "WordVector"], "range": ["#ff0000", "#0000ff", "#000000", "#000000"]}}
      },
      "layer": [
        {"mark": {"type": "line", "strokeWidth": 1.5}, "encoding": {"detail": {"field": "emb"},
          "x": {"field": "x", "type": "quantitative", "scale": {"domain": [5, 30], "nice": false, "zero": false},
            "axis": {"values": [5, 10, 15, 20, 25, 30], "title": "k", "titleFont": "Liberation Serif", "titleFontSize": 17, "titleFontStyle": "italic", "titleFontWeight": "bold", "titleBaseline": "alphabetic", "titleAlign": "center", "titleX": 78, "titleY": 29}}}},
        {"mark": {"type": "point", "filled": false, "size": 368, "strokeWidth": 1.2, "opacity": 1},
          "encoding": {
            "x": {"field": "x", "type": "quantitative", "scale": {"domain": [5, 30], "nice": false, "zero": false},
              "axis": {"orient": "bottom", "labels": false, "ticks": false, "domain": false, "grid": false, "title": "G", "titleFont": "Liberation Serif", "titleFontSize": 12, "titleFontStyle": "italic", "titleBaseline": "alphabetic", "titleAlign": "center", "titleX": 87, "titleY": 36}},
            "shape": {"field": "emb", "type": "nominal", "legend": {"title": null},
            "scale": {"domain": ["GoogleNet", "Vgg19", "Attribute", "WordVector"], "range": ["M-2.29,0L2.29,0", "M-2.29,0L2.29,0", "M0,-0.5L0,0.5M-0.5,0L0.5,0M-0.35,-0.35L0.35,0.35M-0.35,0.35L0.35,-0.35", "M0.57,0A0.57,0.57,0,1,1,-0.57,0A0.57,0.57,0,1,1,0.57,0ZM0.565,0A0.565,0.565,0,1,0,-0.565,0A0.565,0.565,0,1,0,0.565,0Z"]}}}}
      ],
      "resolve": {"axis": {"x": "independent"}}
    },
    {
      "title": "CUB−200−2011",
      "width": 165,
      "height": 209,
      "data": {"name": "acc"},
      "transform": [{"filter": "datum.ds == 'CUB' && datum.param == 'kST'"}],
      "encoding": {
        "y": {"field": "acc", "type": "quantitative", "scale": {"domain": [15, 60], "nice": false, "zero": false},
          "axis": {"values": [15, 20, 25, 30, 35, 40, 45, 50, 55, 60], "title": "Accuracy(%)"}},
        "color": {"field": "model", "type": "nominal", "legend": {"title": null},
          "scale": {"domain": ["GoogleNet", "Vgg19", "Attribute", "WordVector"], "range": ["#ff0000", "#0000ff", "#000000", "#000000"]}}
      },
      "layer": [
        {"mark": {"type": "line", "strokeWidth": 1.5}, "encoding": {"detail": {"field": "emb"},
          "x": {"field": "x", "type": "quantitative", "scale": {"domain": [20, 200], "nice": false, "zero": false},
            "axis": {"values": [20, 40, 60, 80, 100, 120, 140, 160, 180, 200], "title": "k", "titleFont": "Liberation Serif", "titleFontSize": 17, "titleFontStyle": "italic", "titleFontWeight": "bold", "titleBaseline": "alphabetic", "titleAlign": "center", "titleX": 75, "titleY": 29}}}},
        {"mark": {"type": "point", "filled": false, "size": 368, "strokeWidth": 1.2, "opacity": 1},
          "encoding": {
            "x": {"field": "x", "type": "quantitative", "scale": {"domain": [20, 200], "nice": false, "zero": false},
              "axis": {"orient": "bottom", "labels": false, "ticks": false, "domain": false, "grid": false, "title": "ST", "titleFont": "Liberation Serif", "titleFontSize": 12, "titleFontStyle": "italic", "titleBaseline": "alphabetic", "titleAlign": "center", "titleX": 86, "titleY": 36}},
            "shape": {"field": "emb", "type": "nominal", "legend": {"title": null},
            "scale": {"domain": ["GoogleNet", "Vgg19", "Attribute", "WordVector"], "range": ["M-2.29,0L2.29,0", "M-2.29,0L2.29,0", "M0,-0.5L0,0.5M-0.5,0L0.5,0M-0.35,-0.35L0.35,0.35M-0.35,0.35L0.35,-0.35", "M0.57,0A0.57,0.57,0,1,1,-0.57,0A0.57,0.57,0,1,1,0.57,0ZM0.565,0A0.565,0.565,0,1,0,-0.565,0A0.565,0.565,0,1,0,0.565,0Z"]}}}}
      ],
      "resolve": {"axis": {"x": "independent"}}
    }
  ],
  "config": {
    "font": "Liberation Sans",
    "view": {"stroke": "#000000", "strokeWidth": 1},
    "axis": {
      "labelFontSize": 11,
      "labelColor": "#000000",
      "labelPadding": 4,
      "labelOverlap": false,
      "labelFlush": false,
      "titleFontSize": 15,
      "titleFontWeight": "normal",
      "titleColor": "#000000",
      "domainColor": "#000000",
      "ticks": false,
      "grid": true,
      "gridColor": "#9a9a9a",
      "gridDash": [1, 3],
      "gridOpacity": 1
    },
    "axisY": {"titlePadding": 6},
    "title": {"fontSize": 14, "fontWeight": "normal", "color": "#000000", "offset": 3},
    "legend": {
      "orient": "none",
      "legendX": 192,
      "legendY": -48,
      "direction": "horizontal",
      "labelFontSize": 15,
      "labelColor": "#000000",
      "labelOffset": 13,
      "symbolOffset": 9,
      "columnPadding": 5,
      "symbolSize": 196,
      "symbolStrokeWidth": 1.2,
      "strokeColor": "#000000",
      "padding": 4
    }
  }
}
